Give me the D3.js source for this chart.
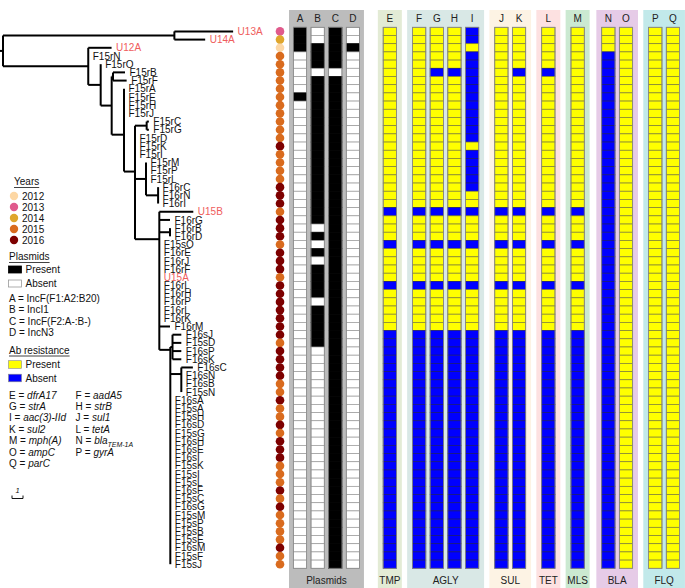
<!DOCTYPE html>
<html><head><meta charset="utf-8">
<script src="https://cdn.jsdelivr.net/npm/d3@7/dist/d3.min.js"></script>
<style>
body{margin:0;background:#fff}
svg{display:block}
text{font-family:"Liberation Sans",Arial,Helvetica,sans-serif;}
</style>
</head><body>
<svg id="chart" width="685" height="588"></svg>
<script>
// ---------------- DATA ----------------
const strains = ["U13A","U14A","U12A","F15rN","F15rO","F15rB","F15rF","F15rA","F15rE","F15rH","F15rJ",
 "F15rC","F15rG","F15rD","F15rK","F15rI","F15rM","F15rP","F15rL","F16rC","F16rN","F16rI",
 "U15B","F16rG","F16rB","F16rD","F15sO","F16rE","F16rJ","F16rF","U15A","F16rL","F16rH","F16rP","F16rL","F16rK","F16rM",
 "F16sJ","F15sD","F16sP","F16sK","F16sC","F16sN","F16sB","F15sN",
 "F16sA","F15sA","F15sH","F16sD","F15sG","F16sH","F16sE","F16sI","F15sK","F15sI","F15sL","F16sF",
 "F15sC","F16sG","F15sM","F15sP","F15sB","F15sE","F16sM","F15sF","F15sJ"];

const years = [2013,2014,2012,2015,2015,2015,2015,2015,2015,2015,2015,
 2015,2015,2015,2016,2015,2015,2015,2015,2016,2016,2016,
 2015,2016,2016,2016,2015,2016,2016,2016,2015,2016,2016,2016,2016,2016,2016,
 2016,2015,2016,2016,2016,2016,2015,2015,
 2016,2015,2015,2016,2015,2016,2016,2016,2015,2015,2015,2016,
 2015,2016,2015,2015,2015,2015,2016,2015,2015];
const yearLevels = [2012,2013,2014,2015,2016];

// phylogeny: branch lengths in tree units; "at" = attachment row
const tree = {len:0, at:null, children:[
  {len:15.58, children:[{name:"U13A",len:5.34},{name:"U14A",len:2.8}]},
  {len:7.75, children:[
    {name:"U12A",len:2.12},
    {name:"F15rN",len:0},
    {len:1.13, children:[
      {name:"F15rO",len:0},
      {len:1.0, children:[
        {len:0.12, children:[{name:"F15rB",len:1.09},{name:"F15rF",len:1.24}]},
        {len:1.12, at:12.6, children:[
          {name:"F15rA",len:0},{name:"F15rE",len:0},{name:"F15rH",len:0},{name:"F15rJ",len:0},
          {len:1.0, at:17.1, children:[
            {len:1.06, children:[{name:"F15rC",len:0.2},{name:"F15rG",len:0.2}]},
            {name:"F15rD",len:0},{name:"F15rK",len:0},{name:"F15rI",len:0},
            {len:1.0, children:[
              {name:"F15rM",len:0},{name:"F15rP",len:0},{name:"F15rL",len:0},
              {len:1.1, children:[{name:"F16rC",len:0},{name:"F16rN",len:0},{name:"F16rI",len:0}]}
            ]},
            {len:2.21, at:25.35, children:[
              {name:"U15B",len:3.09},
              {name:"F16rG",len:0.97},
              {len:0.97, children:[{name:"F16rB",len:0},{name:"F16rD",len:0}]},
              {name:"F15sO",len:0},{name:"F16rE",len:0},{name:"F16rJ",len:0},{name:"F16rF",len:0},
              {name:"U15A",len:0},{name:"F16rL",len:0},{name:"F16rH",len:0},{name:"F16rP",len:0},
              {name:"F16rL",len:0},{name:"F16rK",len:0},
              {name:"F16rM",len:0.97},
              {len:1.0, at:38.85, children:[
                {len:0.2, children:[{name:"F16sJ",len:0.8},{name:"F15sD",len:0.8},{name:"F16sP",len:0.8},{name:"F16sK",len:0.8}]},
                {len:1.0, at:41.8, children:[{name:"F16sC",len:1.05},{name:"F16sN",len:0},{name:"F16sB",len:0},{name:"F15sN",len:0}]},
                {name:"F16sA",len:0},{name:"F15sA",len:0},{name:"F15sH",len:0},{name:"F16sD",len:0},
                {name:"F15sG",len:0},{name:"F16sH",len:0},{name:"F16sE",len:0},{name:"F16sI",len:0},
                {name:"F15sK",len:0},{name:"F15sI",len:0},{name:"F15sL",len:0},{name:"F16sF",len:0},
                {name:"F15sC",len:0},{name:"F16sG",len:0},{name:"F15sM",len:0},{name:"F15sP",len:0},
                {name:"F15sB",len:0},{name:"F15sE",len:0},{name:"F16sM",len:0},{name:"F15sF",len:0},
                {name:"F15sJ",len:0}
              ]}
            ]}
          ]}
        ]}
      ]}
    ]}
  ]}
]};

// plasmids: 1 = present
const plasmidA = "111000001000000000000000000000000000000000000000000000000000000000";
const plasmidB = "001110111111111111111111010101111011111000000000000000000000000000";
const plasmidC = "111110111111111111111111111111111111111111111111111111111111111111";
const plasmidD = "001000000000000000000000000000000000000000000000000000000000000000";
const plasmidNames = ["IncF(F1:A2:B20)","IncI1","IncF(F2:A-:B-)","IncN3"];

// resistance genes: 1 = present
const resE = "111111111111111111111101110111101111100000000000000000000000000000";
const resF = "111111111111111111111101110111101111100000000000000000000000000000";
const resG = "111110111111111111111101110111101111100000000000000000000000000000";
const resH = "111110111111111111111101110111101111100000000000000000000000000000";
const resI = "001000000000001000001101110111101111100000000000000000000000000000";
const resJ = "111111111111111111111101110111101111100000000000000000000000000000";
const resK = "111110111111111111111101110111101111100000000000000000000000000000";
const resL = "111110111111111111111101110111101111100000000000000000000000000000";
const resM = "111111111111111111111101110111101111100000000000000000000000000000";
const resN = "111000000000000000000000000000000000000000000000000000000000000000";
const resO = "111111111111111111111111111111111111111111111111111111111111111111";
const resP = "111111111111111111111111111111111111111111111111111111111111111111";
const resQ = "111111111111111111111111111111111111111111111111111111111111111111";

const groupNames = ["Plasmids","TMP","AGLY","SUL","TET","MLS","BLA","FLQ"];
const groupCols  = [["A","B","C","D"],["E"],["F","G","H","I"],["J","K"],["L"],["M"],["N","O"],["P","Q"]];
const geneLetters = ["E","F","G","H","I","J","K","L","M","N","O","P","Q"];
const geneNames = ["dfrA17","aadA5","strA","strB","aac(3)-IId","sul1","sul2","tetA","mph(A)","bla","ampC","gyrA","parC"];

const colValues = {A:plasmidA,B:plasmidB,C:plasmidC,D:plasmidD,E:resE,F:resF,G:resG,H:resH,I:resI,
  J:resJ,K:resK,L:resL,M:resM,N:resN,O:resO,P:resP,Q:resQ};

// ---------------- STYLE ----------------
const yearColors = d3.scaleOrdinal().domain(yearLevels).range(["#fdd7a4","#e05a8c","#dfa62c","#d96b1e","#7d0000"]);
const groupBg = ["#bcbcbc","#e3ebd5","#d9e8e6","#fdf3e4","#fde1e1","#cbe9d1","#e6cbe7","#c2e9ea"];
const RED = "#ef5d5d";

const svg = d3.select("#chart");
const nRows = strains.length;
const yB = d3.scaleBand().domain(d3.range(nRows)).range([27.3, 568.3]).paddingInner(0).paddingOuter(0);
const bw = yB.bandwidth();
const yRow = d3.scaleLinear().domain([0, nRows-1]).range([yB(0)+bw/2, yB(nRows-1)+bw/2]);

// ---------------- COLUMN LAYOUT ----------------
const gapBefore = [0, 2.09, 1.66, 1.66, 1.66, 1.66, 1.74, 1.66];
const colSlot = {};
let s = null;
groupCols.forEach((cols, gi) => cols.forEach((c, ci) => {
  s = (s === null) ? 0 : s + (ci === 0 ? gapBefore[gi] : 1);
  colSlot[c] = s;
}));
const xCol = d3.scaleLinear().domain([0,1]).range([300, 317.65]);
const cellW = 13.3;

// panels
groupCols.forEach((cols, gi) => {
  const pad = gi === 0 ? 11 : 12;
  const x0 = xCol(colSlot[cols[0]]) - pad;
  const x1 = xCol(colSlot[cols[cols.length-1]]) + pad;
  svg.append("rect").attr("x", x0).attr("y", 10).attr("width", x1-x0).attr("height", 578).attr("fill", groupBg[gi]);
  svg.append("text").attr("x", (x0+x1)/2).attr("y", 584).attr("text-anchor","middle")
    .attr("font-size", 10).attr("fill","#222").text(groupNames[gi]);
  cols.forEach(c => {
    svg.append("text").attr("x", xCol(colSlot[c])).attr("y", 21.5).attr("text-anchor","middle")
      .attr("font-size", 10).attr("fill","#222").text(c);
  });
});

// cells
groupCols.forEach((cols, gi) => cols.forEach(c => {
  const vals = colValues[c].split("").map(Number);
  const cx = xCol(colSlot[c]);
  const g = svg.append("g");
  g.selectAll("rect").data(vals).join("rect")
    .attr("x", cx - cellW/2).attr("y", (d,i) => yB(i)).attr("width", cellW).attr("height", bw)
    .attr("fill", d => gi === 0 ? (d ? "#000" : "#fff") : (d ? "#ffff00" : "#0000ff"))
    .attr("stroke", d => gi === 0 ? (d ? "#000" : "#9a9a9a") : (d ? "#7d7d3a" : "#1a1a70"))
    .attr("stroke-width", 0.7);
  svg.append("rect").attr("x", cx - cellW/2).attr("y", yB(0)).attr("width", cellW).attr("height", bw*nRows)
    .attr("fill","none").attr("stroke","#8a8a8a").attr("stroke-width",0.8);
}));

// year dots
svg.append("g").selectAll("circle").data(years).join("circle")
  .attr("cx", 280).attr("cy", (d,i) => yRow(i)).attr("r", 4.3).attr("fill", d => yearColors(d));

// ---------------- TREE ----------------
const root = d3.hierarchy(tree);
const xT = d3.scaleLinear().domain([0,1]).range([3,14]);
root.each(n => { n.dist = n.parent ? n.parent.dist + n.data.len : 0; n.x = xT(n.dist); });
let leafIdx = 0;
root.eachBefore(n => { if (!n.children) n.row = leafIdx++; });
root.eachAfter(n => {
  if (!n.children) n.y = yRow(n.row);
  else if (n.data.at != null) n.y = yRow(n.data.at);
  else n.y = (n.children[0].y + n.children[n.children.length-1].y)/2;
});
const tg = svg.append("g").attr("stroke","#000").attr("stroke-width",2).attr("fill","none");
root.descendants().forEach(n => {
  if (n.parent) tg.append("line").attr("x1", n.parent.x).attr("x2", n.x).attr("y1", n.y).attr("y2", n.y);
  if (n.children) {
    const ys = n.children.map(c => c.y);
    tg.append("line").attr("x1", n.x).attr("x2", n.x).attr("y1", d3.min(ys)).attr("y2", d3.max(ys));
  }
});
tg.append("line").attr("x1", 0).attr("x2", root.x).attr("y1", root.y).attr("y2", root.y);
svg.append("g").selectAll("text").data(root.leaves()).join("text")
  .attr("x", d => d.x + 4.5).attr("y", d => d.y).attr("dy","0.36em")
  .attr("font-size", 10).attr("fill", d => strains[d.row].startsWith("U") ? RED : "#111")
  .text(d => strains[d.row]);

// ---------------- LEGEND ----------------
function title(txt, x, y) {
  const t = svg.append("text").attr("x", x).attr("y", y).attr("font-size", 10).attr("fill","#111").text(txt);
  const w = t.node().getComputedTextLength();
  svg.append("line").attr("x1", x).attr("x2", x+w).attr("y1", y+2.5).attr("y2", y+2.5).attr("stroke","#111").attr("stroke-width",0.8);
}
title("Years", 14, 185);
yearLevels.forEach((yv, i) => {
  const cy = 196 + i*11;
  svg.append("circle").attr("cx", 14).attr("cy", cy).attr("r", 4.2).attr("fill", yearColors(yv));
  svg.append("text").attr("x", 22).attr("y", cy).attr("dy","0.36em").attr("font-size",10).attr("fill","#111").text(yv);
});
title("Plasmids", 9, 260);
[["Present","#000","#000"],["Absent","#fff","#999"]].forEach((p,i) => {
  const cy = 269.5 + i*14;
  svg.append("rect").attr("x", 8.5).attr("y", cy-3.5).attr("width", 13).attr("height", 7).attr("fill", p[1]).attr("stroke", p[2]).attr("stroke-width",0.8);
  svg.append("text").attr("x", 25.5).attr("y", cy).attr("dy","0.36em").attr("font-size",10).attr("fill","#111").text(p[0]);
});
plasmidNames.forEach((nm, i) => {
  svg.append("text").attr("x", 9).attr("y", 298.5 + i*11.2).attr("dy","0.36em").attr("font-size",10).attr("fill","#111")
    .text(groupCols[0][i] + " = " + nm);
});
title("Ab resistance", 9, 353.5);
[["Present","#ffff00"],["Absent","#0000ff"]].forEach((p,i) => {
  const cy = 364.5 + i*13.5;
  svg.append("rect").attr("x", 8.5).attr("y", cy-3.8).attr("width", 13).attr("height", 7.6).attr("fill", p[1]).attr("stroke","#888").attr("stroke-width",0.6);
  svg.append("text").attr("x", 25.5).attr("y", cy).attr("dy","0.36em").attr("font-size",10).attr("fill","#111").text(p[0]);
});
geneLetters.forEach((L, i) => {
  const x = i % 2 === 0 ? 9 : 75.5;
  const y = 395 + Math.floor(i/2)*11.4;
  const t = svg.append("text").attr("x", x).attr("y", y).attr("dy","0.36em").attr("font-size",10).attr("fill","#111");
  t.append("tspan").text(L + " = ");
  t.append("tspan").attr("font-style","italic").text(geneNames[i]);
  if (geneNames[i] === "bla") {
    t.append("tspan").attr("font-style","italic").attr("font-size",7).attr("dy", 3).text("TEM-1A");
  }
});
// scale bar (1 unit)
const sb0 = 12, sb1 = sb0 + (xT(1) - xT(0));
svg.append("path").attr("d", `M${sb0},495.5V498.5H${sb1}V495.5`).attr("fill","none").attr("stroke","#111").attr("stroke-width",1);
svg.append("text").attr("x", (sb0+sb1)/2).attr("y", 493).attr("text-anchor","middle").attr("font-size",7.5)
  .attr("font-style","italic").attr("fill","#111").text("1");
</script>
</body></html>
